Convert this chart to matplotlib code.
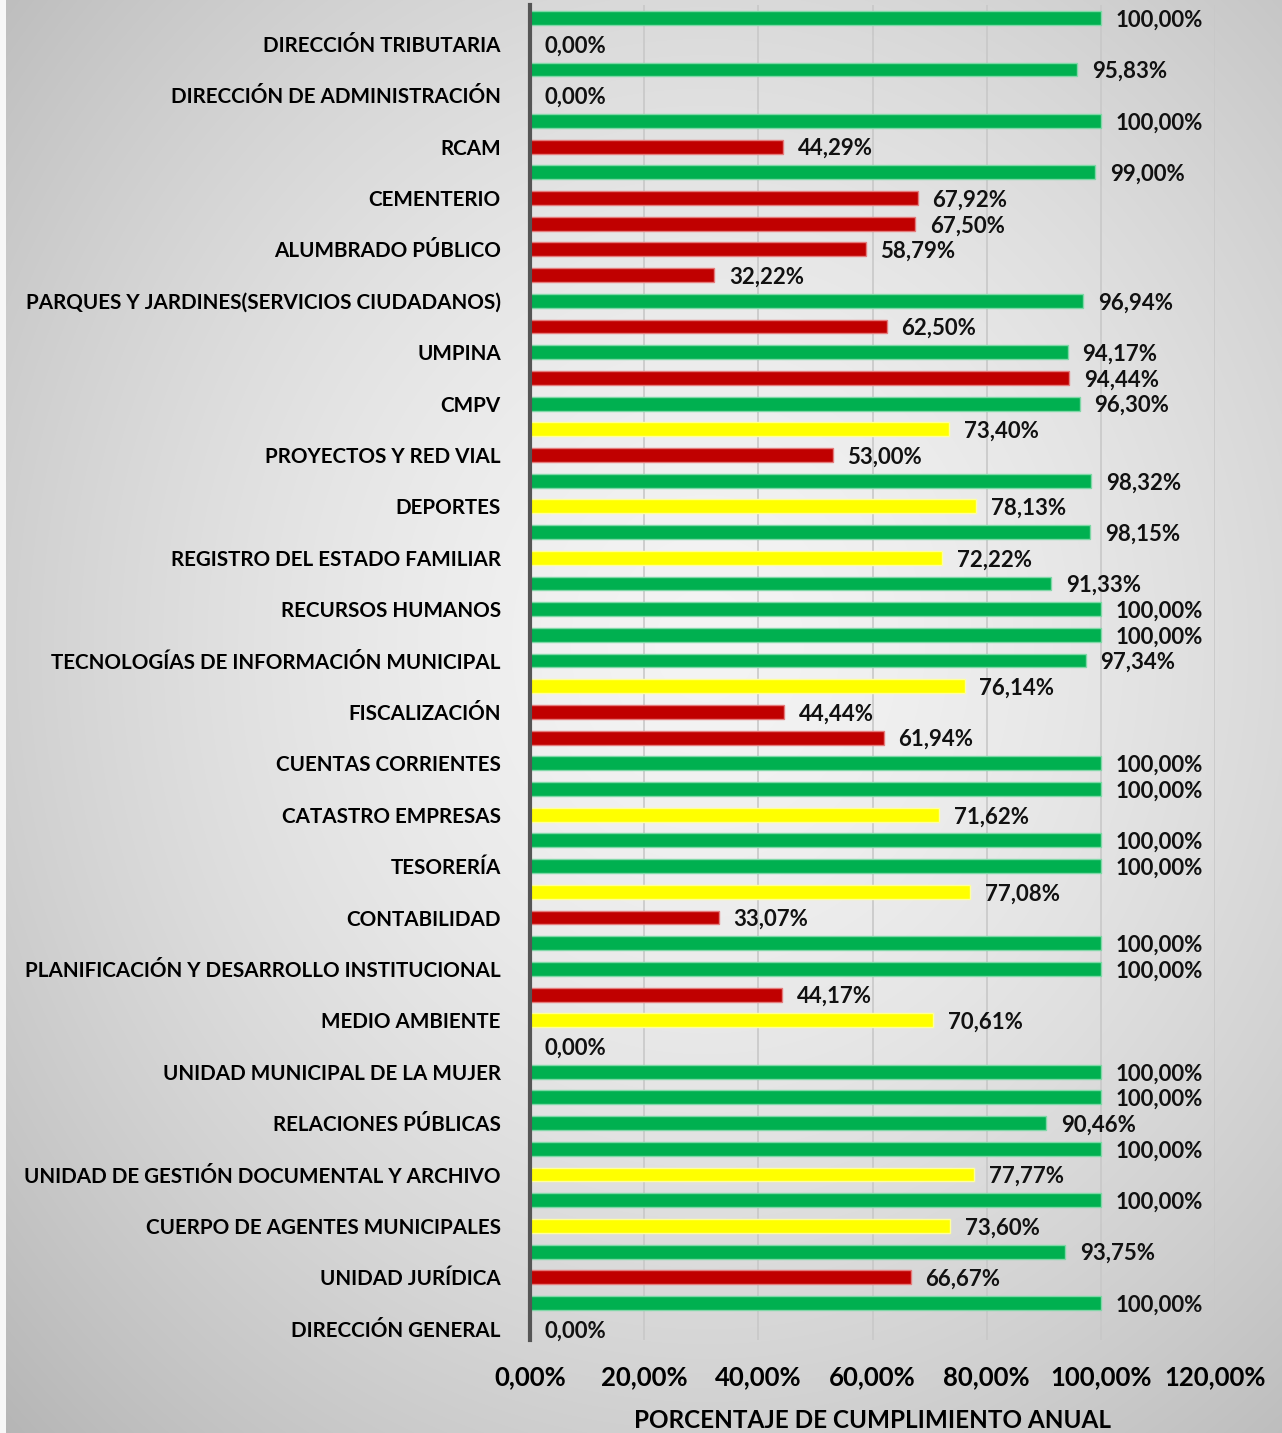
import numpy as np
import matplotlib
matplotlib.use("Agg")
import matplotlib.pyplot as plt

# ---------------- data (top to bottom) ----------------
categories = [
    "DIRECCIÓN TRIBUTARIA",
    "DIRECCIÓN DE ADMINISTRACIÓN",
    "RCAM",
    "CEMENTERIO",
    "ALUMBRADO PÚBLICO",
    "PARQUES Y JARDINES(SERVICIOS CIUDADANOS)",
    "UMPINA",
    "CMPV",
    "PROYECTOS Y RED VIAL",
    "DEPORTES",
    "REGISTRO DEL ESTADO FAMILIAR",
    "RECURSOS HUMANOS",
    "TECNOLOGÍAS DE INFORMACIÓN MUNICIPAL",
    "FISCALIZACIÓN",
    "CUENTAS CORRIENTES",
    "CATASTRO EMPRESAS",
    "TESORERÍA",
    "CONTABILIDAD",
    "PLANIFICACIÓN Y DESARROLLO INSTITUCIONAL",
    "MEDIO AMBIENTE",
    "UNIDAD MUNICIPAL DE LA MUJER",
    "RELACIONES PÚBLICAS",
    "UNIDAD DE GESTIÓN DOCUMENTAL Y ARCHIVO",
    "CUERPO DE AGENTES MUNICIPALES",
    "UNIDAD JURÍDICA",
    "DIRECCIÓN GENERAL",
]
upper_values = [100.00, 95.83, 100.00, 99.00, 67.50, 32.22, 62.50, 94.44, 73.40, 98.32,
                98.15, 91.33, 100.00, 76.14, 61.94, 100.00, 100.00, 77.08, 100.00, 44.17,
                0.00, 100.00, 100.00, 100.00, 93.75, 100.00]
lower_values = [0.00, 0.00, 44.29, 67.92, 58.79, 96.94, 94.17, 96.30, 53.00, 78.13,
                72.22, 100.00, 97.34, 44.44, 100.00, 71.62, 100.00, 33.07, 100.00, 70.61,
                100.00, 90.46, 77.77, 73.60, 66.67, 0.00]
upper_status = ["G", "G", "G", "G", "R", "R", "R", "R", "Y", "G",
                "G", "G", "G", "Y", "R", "G", "G", "Y", "G", "R",
                "G", "G", "G", "G", "G", "G"]
lower_status = ["G", "G", "R", "R", "R", "G", "G", "G", "R", "Y",
                "Y", "G", "G", "R", "G", "Y", "G", "R", "G", "Y",
                "G", "G", "Y", "Y", "R", "G"]
x_ticks = [0, 20, 40, 60, 80, 100, 120]
x_label = "PORCENTAJE DE CUMPLIMIENTO ANUAL"

# ---------------- style ----------------
fill = {"G": "#00B050", "R": "#C00000", "Y": "#FFFF00"}
edge = {"G": "#7FD8A7", "R": "#E47C7C", "Y": "#FFFF9A"}
FONT = ["Lato", "DejaVu Sans"]
plt.rcParams["font.family"] = FONT

W, H = 1282, 1433
fig = plt.figure(figsize=(W / 100, H / 100), dpi=100)

# background radial gradient
bg = fig.add_axes([0, 0, 1, 1], zorder=-10)
yy, xx = np.mgrid[0:H, 0:W]
cx, cy = 0.55 * W, 0.45 * H
r = np.sqrt(((xx - cx) / (0.62 * W)) ** 2 + ((yy - cy) / (0.62 * H)) ** 2)
val = 0.955 - 0.17 * np.clip(r, 0, 1.3) ** 1.6
img = np.dstack([val, val, val])
img[:, :6, :] = 0.97
bg.imshow(img, aspect="auto", extent=[0, 1, 0, 1], interpolation="bilinear")
bg.set_axis_off()

ax = fig.add_axes([530 / W, 1 - 1340 / H, (1215 - 530) / W, (1340 - 5) / H])
ax.patch.set_alpha(0)

n = len(categories)
pos_lower = np.arange(n)[::-1].astype(float)
pos_upper = pos_lower + 0.5
bh = 0.27

for vals, stats, pos in ((upper_values, upper_status, pos_upper),
                         (lower_values, lower_status, pos_lower)):
    ax.barh(pos, vals, height=bh, color=[fill[s] for s in stats],
            edgecolor=[edge[s] for s in stats], linewidth=1.0, zorder=3)
    for v, p in zip(vals, pos):
        ax.text(v + 2.6, p - 0.04, f"{v:.2f}%".replace(".", ","), va="center", ha="left",
                fontsize=16, fontweight="bold", color="#111111", zorder=4)

ax.set_xlim(0, 120)
ax.set_ylim(-0.22, n - 1 + 0.5 + 0.255)
ax.set_xticks(x_ticks)
ax.set_xticklabels([f"{t:.2f}%".replace(".", ",") for t in x_ticks],
                   fontsize=18.5, fontweight="bold")
ax.set_yticks(pos_lower)
ax.set_yticklabels(categories, fontsize=14.9, fontweight="bold")
ax.tick_params(axis="y", length=0, pad=21)
ax.tick_params(axis="x", length=0, pad=18)
ax.grid(axis="x", color="#C8C8C8", linewidth=1.2, zorder=0)
for s in ("top", "right", "bottom"):
    ax.spines[s].set_visible(False)
ax.spines["left"].set_color("#555555")
ax.spines["left"].set_linewidth(3)
ax.spines["left"].set_zorder(5)
ax.set_xlabel(x_label, fontsize=17.5, fontweight="bold")
ax.xaxis.label.set_va("center")
ax.xaxis.set_label_coords(0.5, (1340 - 1420) / 1335)

fig.savefig("out.png", dpi=100)
